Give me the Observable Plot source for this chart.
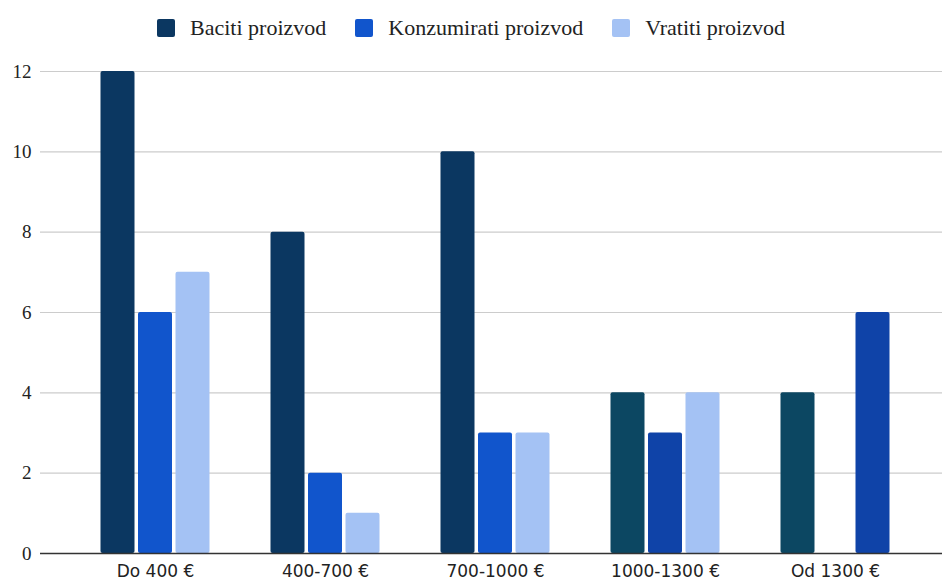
<!DOCTYPE html>
<html>
<head>
<meta charset="utf-8">
<script src="https://cdn.jsdelivr.net/npm/d3@7"></script>
<script src="https://cdn.jsdelivr.net/npm/@observablehq/plot@0.6"></script>
<style>
  html, body { margin: 0; padding: 0; background: #fff; }
  #legend { height: 50px; display: flex; align-items: center; justify-content: center; font-family: "Liberation Serif", "DejaVu Serif", serif; font-size: 22px; color: #222; padding-top: 6px; box-sizing: border-box; }
  .item { display: flex; align-items: center; margin: 0 14.5px; }
  .sw { width: 18px; height: 18px; border-radius: 2px; margin-right: 15px; }
</style>
</head>
<body>
<div id="legend"></div>
<div id="chart"></div>
<script>
const groups = ["Do 400 €", "400-700 €", "700-1000 €", "1000-1300 €", "Od 1300 €"];
const seriesNames = ["Baciti proizvod", "Konzumirati proizvod", "Vratiti proizvod"];
const baciti = [12, 8, 10, 4, 4];
const konzumirati = [6, 2, 3, 3, 0];
const vratiti = [7, 1, 3, 4, 6];
const yTicks = [0, 2, 4, 6, 8, 10, 12];

// styles
const seriesColors = ["#0b3761", "#1155cc", "#a4c2f4"];
const barColors = [
  ["#0b3761", "#0b3761", "#0b3761", "#0c4762", "#0c4762"],
  ["#1155cc", "#1155cc", "#1155cc", "#0f43a8", "#0f43a8"],
  ["#a4c2f4", "#a4c2f4", "#a4c2f4", "#a4c2f4", "#0f43a8"]
];
const slotOffsets = [-37.5, 0, 37.5];

const values = [baciti, konzumirati, vratiti];
const rows = [];
values.forEach((vals, s) => vals.forEach((v, g) => {
  if (v > 0) rows.push({group: groups[g], series: seriesNames[s], s, value: v, color: barColors[s][g]});
}));

const legend = document.getElementById("legend");
seriesNames.forEach((n, i) => {
  const it = document.createElement("div");
  it.className = "item";
  it.innerHTML = `<div class="sw" style="background:${seriesColors[i]}"></div><span>${n}</span>`;
  legend.appendChild(it);
});

const plot = Plot.plot({
  width: 942,
  height: 533,
  marginLeft: 40,
  marginRight: 0,
  marginTop: 21,
  marginBottom: 30,
  style: {background: "#fff"},
  x: {domain: groups, range: [70, 920], padding: 0, label: null},
  y: {domain: [0, 12], label: null},
  marks: [
    Plot.ruleY(yTicks.filter(d => d > 0), {stroke: "#cccccc", strokeWidth: 1.2}),
    ...[0, 1, 2].map(s => Plot.barY(rows.filter(d => d.s === s), {
      x: "group", y: "value", fill: "color", dx: slotOffsets[s],
      insetLeft: 68, insetRight: 68, rx: 2
    })),
    Plot.ruleY([0], {stroke: "#333", strokeWidth: 1.5}),
    Plot.axisY({ticks: yTicks, tickSize: 0, tickPadding: 9, fontSize: 19, label: null,
      fontFamily: "'Liberation Serif', 'DejaVu Serif', serif", fill: "#222"}),
    Plot.axisX({tickSize: 0, tickPadding: 11, fontSize: 17, label: null,
      fontFamily: "'DejaVu Sans', sans-serif", fill: "#222"})
  ]
});
document.getElementById("chart").appendChild(plot);
</script>
</body>
</html>
